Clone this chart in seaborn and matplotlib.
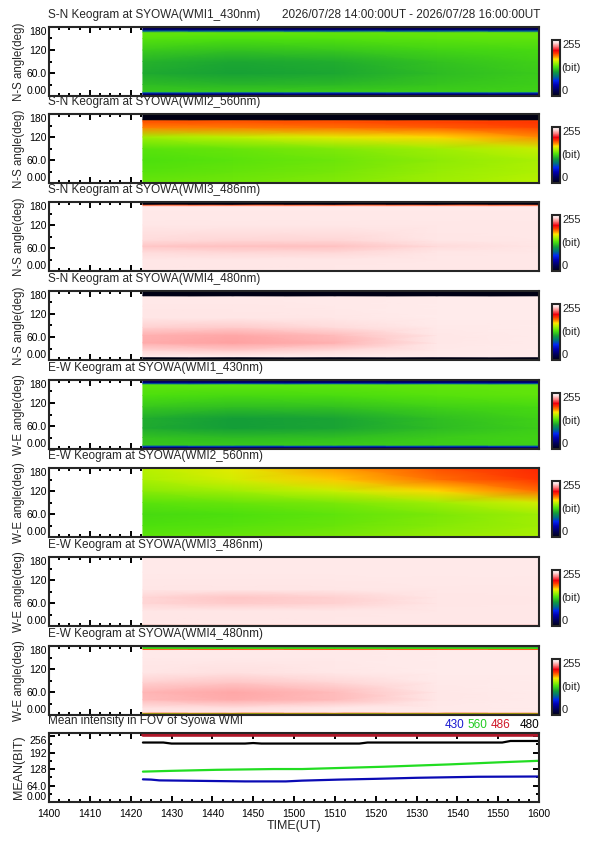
## load packages
import numpy as np
import pandas as pd
import seaborn as sns
import matplotlib
matplotlib.use("Agg")
import matplotlib.pyplot as plt
from matplotlib.colors import LinearSegmentedColormap
from matplotlib.ticker import MultipleLocator

## keogram values (bit), rows = angle nodes (deg), columns = time nodes
time_nodes = [23, 45, 70, 95, 120]  # minutes after 14:00 UT

sn430_ang = [0, 6, 9, 12, 30, 60, 90, 120, 150, 166, 170, 174, 180]
sn430_val = [
    [22, 22, 22, 22, 22],
    [35, 35, 35, 35, 35],
    [80, 80, 80, 80, 80],
    [124, 124, 125, 126, 127],
    [120, 118, 119, 123, 126],
    [114, 111, 113, 120, 125],
    [117, 113, 115, 122, 127],
    [125, 122, 124, 128, 130],
    [134, 132, 133, 135, 136],
    [137, 137, 137, 138, 138],
    [85, 85, 85, 85, 85],
    [30, 30, 30, 30, 30],
    [12, 12, 12, 12, 12],
]

sn560_ang = [0, 30, 60, 90, 120, 145, 160, 163, 166, 180]
sn560_val = [
    [138, 140, 144, 150, 155],
    [134, 137, 141, 148, 153],
    [132, 135, 139, 146, 152],
    [135, 138, 143, 150, 158],
    [150, 156, 163, 170, 180],
    [182, 183, 185, 188, 192],
    [190, 190, 191, 193, 195],
    [188, 188, 189, 190, 192],
    [0, 0, 0, 0, 0],
    [0, 0, 0, 0, 0],
]

sn486_ang = [0, 30, 50, 65, 80, 120, 168, 171, 173, 175, 180]
sn486_val = [
    [246, 246, 246, 246, 246],
    [245, 245, 245, 246, 246],
    [243, 242, 242, 245, 246],
    [239, 238, 238, 243, 245],
    [243, 242, 242, 245, 246],
    [246, 246, 246, 246, 246],
    [247, 247, 247, 247, 247],
    [235, 235, 235, 235, 235],
    [190, 190, 190, 190, 190],
    [0, 0, 0, 0, 0],
    [0, 0, 0, 0, 0],
]

sn480_ang = [0, 7, 9, 12, 25, 45, 65, 85, 110, 140, 166, 168, 180]
sn480_val = [
    [0, 0, 0, 0, 0],
    [0, 0, 0, 0, 0],
    [248, 248, 248, 248, 248],
    [246, 246, 247, 248, 248],
    [242, 240, 243, 247, 248],
    [234, 232, 235, 246, 248],
    [235, 233, 237, 246, 248],
    [241, 240, 243, 247, 248],
    [245, 245, 246, 248, 248],
    [246, 246, 247, 248, 248],
    [247, 247, 247, 248, 248],
    [0, 0, 0, 0, 0],
    [0, 0, 0, 0, 0],
]

ew430_ang = [0, 5, 8, 11, 30, 55, 80, 110, 140, 168, 171, 174, 180]
ew430_val = [
    [20, 20, 20, 20, 20],
    [35, 35, 35, 35, 35],
    [80, 80, 80, 80, 80],
    [124, 124, 125, 126, 127],
    [122, 120, 121, 125, 128],
    [114, 110, 112, 120, 126],
    [115, 110, 112, 121, 127],
    [124, 121, 122, 127, 130],
    [132, 130, 131, 134, 136],
    [136, 136, 136, 137, 137],
    [85, 85, 85, 85, 85],
    [35, 35, 35, 35, 35],
    [15, 15, 15, 15, 15],
]

ew560_ang = [0, 30, 60, 90, 120, 150, 180]
ew560_val = [
    [136, 138, 142, 148, 152],
    [132, 134, 138, 144, 150],
    [130, 132, 136, 142, 150],
    [135, 138, 142, 150, 160],
    [145, 150, 158, 170, 185],
    [152, 160, 172, 185, 195],
    [155, 163, 178, 190, 198],
]

ew486_ang = [0, 2.5, 4.5, 6, 40, 60, 75, 95, 140, 180]
ew486_val = [
    [135, 135, 135, 135, 135],
    [160, 160, 160, 160, 160],
    [240, 240, 240, 240, 240],
    [246, 246, 246, 246, 246],
    [245, 245, 245, 246, 246],
    [242, 240, 241, 245, 246],
    [242, 239, 241, 245, 246],
    [245, 245, 245, 246, 246],
    [247, 247, 247, 247, 247],
    [247, 247, 247, 247, 247],
]

ew480_ang = [0, 4, 6, 8, 20, 40, 60, 85, 110, 150, 170, 172, 174, 176, 180]
ew480_val = [
    [128, 128, 128, 128, 128],
    [128, 128, 128, 128, 128],
    [190, 190, 190, 190, 190],
    [246, 246, 247, 247, 247],
    [244, 243, 245, 247, 248],
    [237, 234, 237, 246, 248],
    [236, 233, 237, 246, 248],
    [241, 239, 242, 247, 248],
    [245, 244, 246, 248, 248],
    [247, 247, 247, 248, 248],
    [247, 247, 247, 248, 248],
    [190, 190, 190, 190, 190],
    [130, 130, 130, 130, 130],
    [125, 125, 125, 125, 125],
    [110, 110, 110, 110, 110],
]

panel_titles = [
    "S-N Keogram at SYOWA(WMI1_430nm)",
    "S-N Keogram at SYOWA(WMI2_560nm)",
    "S-N Keogram at SYOWA(WMI3_486nm)",
    "S-N Keogram at SYOWA(WMI4_480nm)",
    "E-W Keogram at SYOWA(WMI1_430nm)",
    "E-W Keogram at SYOWA(WMI2_560nm)",
    "E-W Keogram at SYOWA(WMI3_486nm)",
    "E-W Keogram at SYOWA(WMI4_480nm)",
]
panel_ylabels = ["N-S angle(deg)"] * 4 + ["W-E angle(deg)"] * 4
panel_angles = [sn430_ang, sn560_ang, sn486_ang, sn480_ang,
                ew430_ang, ew560_ang, ew486_ang, ew480_ang]
panel_values = [sn430_val, sn560_val, sn486_val, sn480_val,
                ew430_val, ew560_val, ew486_val, ew480_val]

angle_ticks = [0, 60, 120, 180]
angle_tick_labels = ["0.00", "60.0", "120", "180"]
time_ticks = list(range(0, 121, 10))
time_tick_labels = ["1400", "1410", "1420", "1430", "1440", "1450", "1500",
                    "1510", "1520", "1530", "1540", "1550", "1600"]
period_text = "2026/07/28 14:00:00UT - 2026/07/28 16:00:00UT"

## mean intensity in FOV (bit)
mean430_t = [23, 25, 27, 48, 58, 62, 71, 80, 90, 105, 120]
mean430_v = [88, 87, 84, 80, 80, 83, 87, 90, 94, 98, 99]
mean560_t = [23, 30, 41, 55, 62, 82, 98, 110, 120]
mean560_v = [118, 121, 125, 128, 128, 137, 146, 154, 160]
mean486_t = [23, 60, 120]
mean486_v = [259, 259, 259]
mean480_t = [23, 28, 30, 48, 50, 52, 76, 78, 111, 113, 120]
mean480_v = [231, 231, 227, 227, 229, 227, 227, 231, 231, 237, 237]
mean_ticks = [0, 64, 128, 192, 256]
mean_tick_labels = ["0.00", "64.0", "128", "192", "256"]
band_names = ["430", "560", "486", "480"]
band_colors = {"430": "#0a0ab4", "560": "#22dd22", "486": "#b0182a", "480": "#000000"}
label_colors = {"430": "#1a1ad0", "560": "#22cc22", "486": "#d01828", "480": "#000000"}

## colour table (IDL-like rainbow with white top)
cmap_nodes = [
    (0, (0.0, 0.0, 0.08)), (25, (0.0, 0.0, 0.35)), (50, (0.0, 0.0, 0.7)),
    (70, (0.0, 0.15, 0.95)), (90, (0.0, 0.45, 0.5)), (110, (0.08, 0.62, 0.22)),
    (132, (0.3, 0.88, 0.05)), (155, (0.72, 0.95, 0.0)), (168, (1.0, 0.9, 0.0)),
    (180, (1.0, 0.55, 0.0)), (195, (1.0, 0.2, 0.0)), (208, (0.95, 0.0, 0.05)),
    (228, (1.0, 0.55, 0.55)), (245, (1.0, 0.9, 0.9)), (255, (1.0, 0.97, 0.97)),
]
cmap = LinearSegmentedColormap.from_list("idl_like", [(v / 255, c) for v, c in cmap_nodes])

sns.set_theme(style="ticks")
plt.rcParams["font.family"] = ["Liberation Sans", "DejaVu Sans"]
plt.rcParams["axes.linewidth"] = 1.5

W, H = 595, 842
fig = plt.figure(figsize=(W / 100, H / 100), dpi=100)


def box(x0, y0, x1, y1):
    return [x0 / W, 1 - y1 / H, (x1 - x0) / W, (y1 - y0) / H]


def style_ticks(ax):
    ax.tick_params(which="both", direction="in", top=True, right=True,
                   width=1.4, colors="black", labelsize=7.5, pad=1.5)
    ax.tick_params(which="major", length=4)
    ax.tick_params(which="minor", length=2.2)
    ax.xaxis.set_minor_locator(MultipleLocator(2.5))


panel_tops = [27, 114, 202, 291, 380, 468, 557, 646]
left, right = 49, 539

for top, title, ylab, ang, val in zip(panel_tops, panel_titles, panel_ylabels,
                                      panel_angles, panel_values):
    ax = fig.add_axes(box(left, top, right, top + 69))
    X, Y = np.meshgrid(time_nodes, ang)
    mesh = ax.pcolormesh(X, Y, np.array(val, dtype=float), shading="gouraud",
                         cmap=cmap, vmin=0, vmax=255)
    ax.set_xlim(0, 120)
    ax.set_ylim(0, 180)
    ax.set_xticks(time_ticks)
    ax.set_xticklabels([])
    ax.set_yticks(angle_ticks)
    ax.set_yticklabels(angle_tick_labels)
    ax.yaxis.set_minor_locator(MultipleLocator(30))
    style_ticks(ax)
    ylabels = ax.get_yticklabels()
    ylabels[0].set_va("bottom")
    ylabels[-1].set_va("top")
    ax.set_ylabel(ylab, fontsize=8.3, labelpad=1.5)
    fig.text(48 / W, 1 - (top - 9) / H, title, fontsize=8.5, va="baseline", ha="left")

    cax = fig.add_axes(box(552, top + 13, 560, top + 69))
    cb = fig.colorbar(mesh, cax=cax)
    cb.set_ticks([])
    cb.outline.set_linewidth(1.5)
    cax.text(1.25, 1.0, "255", transform=cax.transAxes, fontsize=8, va="top", ha="left")
    cax.text(1.2, 0.5, "(bit)", transform=cax.transAxes, fontsize=8, va="center", ha="left")
    cax.text(1.25, 0.0, "0", transform=cax.transAxes, fontsize=8, va="bottom", ha="left")

fig.text(540 / W, 1 - (27 - 9) / H, period_text, fontsize=8.5, va="baseline", ha="right")

## mean intensity panel
mean_df = pd.concat([
    pd.DataFrame({"t": mean430_t, "v": mean430_v, "band": "430"}),
    pd.DataFrame({"t": mean560_t, "v": mean560_v, "band": "560"}),
    pd.DataFrame({"t": mean486_t, "v": mean486_v, "band": "486"}),
    pd.DataFrame({"t": mean480_t, "v": mean480_v, "band": "480"}),
])

axm = fig.add_axes(box(left, 733, right, 802))
sns.lineplot(data=mean_df.query("band != '486'"), x="t", y="v", hue="band",
             palette=band_colors, estimator=None, legend=False, linewidth=1.6, ax=axm)
sns.lineplot(data=mean_df.query("band == '486'"), x="t", y="v", color=band_colors["486"],
             estimator=None, legend=False, linewidth=2.6, ax=axm)
axm.set_xlim(0, 120)
axm.set_ylim(0, 268)
axm.set_xticks(time_ticks)
axm.set_xticklabels(time_tick_labels)
axm.set_yticks(mean_ticks)
axm.set_yticklabels(mean_tick_labels)
axm.yaxis.set_minor_locator(MultipleLocator(32))
style_ticks(axm)
mlabels = axm.get_yticklabels()
mlabels[0].set_va("bottom")
mlabels[-1].set_va("top")
axm.tick_params(axis="x", pad=5)
axm.set_xlabel("TIME(UT)", fontsize=9, labelpad=1)
axm.set_ylabel("MEAN(BIT)", fontsize=9, labelpad=1.5)
fig.text(48 / W, 1 - (733 - 9) / H, "Mean intensity in FOV of Syowa WMI",
         fontsize=8.5, va="baseline", ha="left")

for name, xr in zip(band_names, [464, 487, 510, 539]):
    fig.text(xr / W, 1 - (733 - 2) / H, name, color=label_colors[name],
             fontsize=8.5, va="bottom", ha="right")

fig.savefig("out.png", dpi=100, facecolor="white")
